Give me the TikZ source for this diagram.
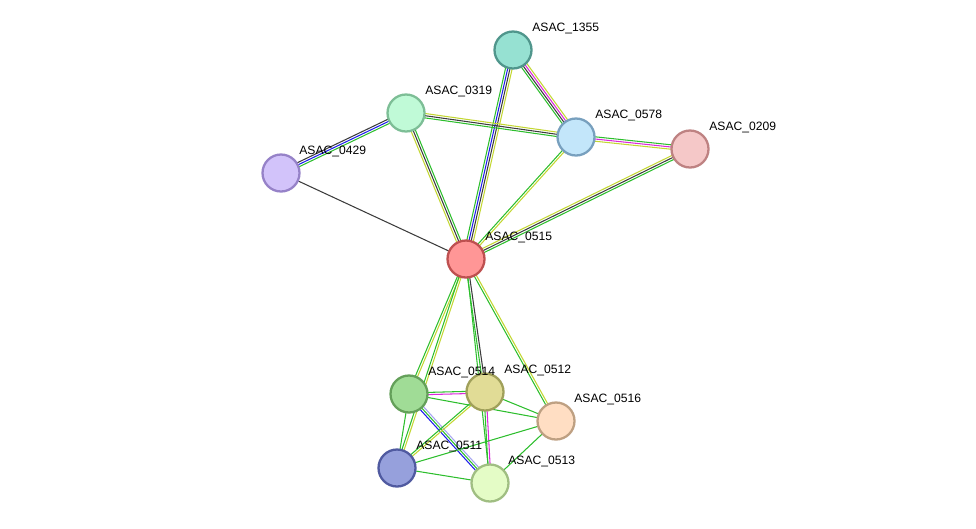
\documentclass[tikz,border=0pt]{standalone}
\usepackage{fontspec}
\setmainfont{Liberation Sans}
\usetikzlibrary{calc,backgrounds}

\definecolor{strgreen}{RGB}{45,190,45}
\definecolor{strblue}{RGB}{30,30,235}
\definecolor{strblack}{RGB}{60,60,60}
\definecolor{stryellow}{RGB}{195,215,50}
\definecolor{strmagenta}{RGB}{220,40,220}
\definecolor{strlav}{RGB}{165,165,240}

\tikzset{
  prot/.style={circle, minimum size=0.74cm, inner sep=0pt, line width=1.3pt},
  lbl/.style={anchor=west, inner sep=0pt, font=\fontsize{6.9}{8}\selectfont},
  edge/.style={line width=0.6pt}
}

% one coloured line per evidence channel, side by side
\newcommand{\link}[3]{%
  \foreach \c/\o in {#3} {
    \draw[edge,\c] ($(#1)!\o*1.25pt!90:(#2)$) -- ($(#2)!\o*1.25pt!-90:(#1)$);
  }%
}

\begin{document}
\begin{tikzpicture}[x=0.02cm, y=-0.02cm]
    \useasboundingbox (0,0) rectangle (976,528);

    % Draw the proteins
    \node[prot, fill={rgb,255:red,255;green,150;blue,150}, draw={rgb,255:red,190;green,80;blue,80}] (n0515) at (466,259) {};
    \node[prot, fill={rgb,255:red,150;green,225;blue,210}, draw={rgb,255:red,80;green,150;blue,140}] (n1355) at (513,50) {};
    \node[prot, fill={rgb,255:red,192;green,250;blue,215}, draw={rgb,255:red,125;green,190;blue,150}] (n0319) at (406,113) {};
    \node[prot, fill={rgb,255:red,195;green,230;blue,250}, draw={rgb,255:red,120;green,160;blue,190}] (n0578) at (576,137) {};
    \node[prot, fill={rgb,255:red,245;green,200;blue,200}, draw={rgb,255:red,190;green,130;blue,130}] (n0209) at (690,149) {};
    \node[prot, fill={rgb,255:red,210;green,195;blue,250}, draw={rgb,255:red,150;green,130;blue,200}] (n0429) at (281,173) {};
    \node[prot, fill={rgb,255:red,160;green,220;blue,150}, draw={rgb,255:red,100;green,160;blue,90}] (n0514) at (409,394) {};
    \node[prot, fill={rgb,255:red,225;green,220;blue,150}, draw={rgb,255:red,160;green,160;blue,90}] (n0512) at (485,392) {};
    \node[prot, fill={rgb,255:red,255;green,222;blue,195}, draw={rgb,255:red,190;green,160;blue,130}] (n0516) at (556,421) {};
    \node[prot, fill={rgb,255:red,150;green,160;blue,220}, draw={rgb,255:red,80;green,90;blue,160}] (n0511) at (397,468) {};
    \node[prot, fill={rgb,255:red,228;green,252;blue,198}, draw={rgb,255:red,160;green,190;blue,130}] (n0513) at (490,483) {};

    % Label the proteins
    \node[lbl] at ($(n0515)+(19,-22)$) {ASAC\_0515};
    \node[lbl] at ($(n1355)+(19,-22)$) {ASAC\_1355};
    \node[lbl] at ($(n0319)+(19,-22)$) {ASAC\_0319};
    \node[lbl] at ($(n0578)+(19,-22)$) {ASAC\_0578};
    \node[lbl] at ($(n0209)+(19,-22)$) {ASAC\_0209};
    \node[lbl] at ($(n0429)+(18,-22)$) {ASAC\_0429};
    \node[lbl] at ($(n0514)+(19,-22)$) {ASAC\_0514};
    \node[lbl] at ($(n0512)+(19,-22)$) {ASAC\_0512};
    \node[lbl] at ($(n0516)+(18,-22)$) {ASAC\_0516};
    \node[lbl] at ($(n0511)+(19,-22)$) {ASAC\_0511};
    \node[lbl] at ($(n0513)+(18,-22)$) {ASAC\_0513};

    % Draw the interactions behind the proteins
    \begin{scope}[on background layer]
        \link{n1355}{n0515}{strgreen/-1.5, strblue/-0.5, strblack/0.5, stryellow/1.5}
        \link{n1355}{n0578}{strgreen/-1.5, strblack/-0.5, strmagenta/0.5, stryellow/1.5}
        \link{n0319}{n0578}{strgreen/-1, strblack/0, stryellow/1}
        \link{n0319}{n0515}{stryellow/-1, strblack/0, strgreen/1}
        \link{n0319}{n0429}{strblack/-1, strblue/0, strgreen/1}
        \link{n0578}{n0209}{stryellow/-1, strmagenta/0, strgreen/1}
        \link{n0578}{n0515}{strgreen/-0.5, stryellow/0.5}
        \link{n0209}{n0515}{stryellow/-1, strblack/0, strgreen/1}
        \link{n0429}{n0515}{strblack/0}
        \link{n0515}{n0514}{strgreen/-0.5, stryellow/0.5}
        \link{n0515}{n0511}{strgreen/-0.5, stryellow/0.5}
        \link{n0515}{n0512}{strgreen/-0.5, strblack/0.5}
        \link{n0515}{n0513}{strgreen/0}
        \link{n0515}{n0516}{strgreen/-0.5, stryellow/0.5}
        \link{n0514}{n0512}{strmagenta/-0.5, strgreen/0.5}
        \link{n0514}{n0516}{strgreen/0}
        \link{n0514}{n0511}{strgreen/0}
        \link{n0514}{n0513}{strblue/-1, strgreen/0, strlav/1}
        \link{n0512}{n0516}{strgreen/0}
        \link{n0512}{n0511}{strgreen/-0.5, stryellow/0.5}
        \link{n0512}{n0513}{strgreen/-0.5, strmagenta/0.5}
        \link{n0516}{n0511}{strgreen/0}
        \link{n0516}{n0513}{strgreen/0}
        \link{n0511}{n0513}{strgreen/0}
    \end{scope}
\end{tikzpicture}
\end{document}
